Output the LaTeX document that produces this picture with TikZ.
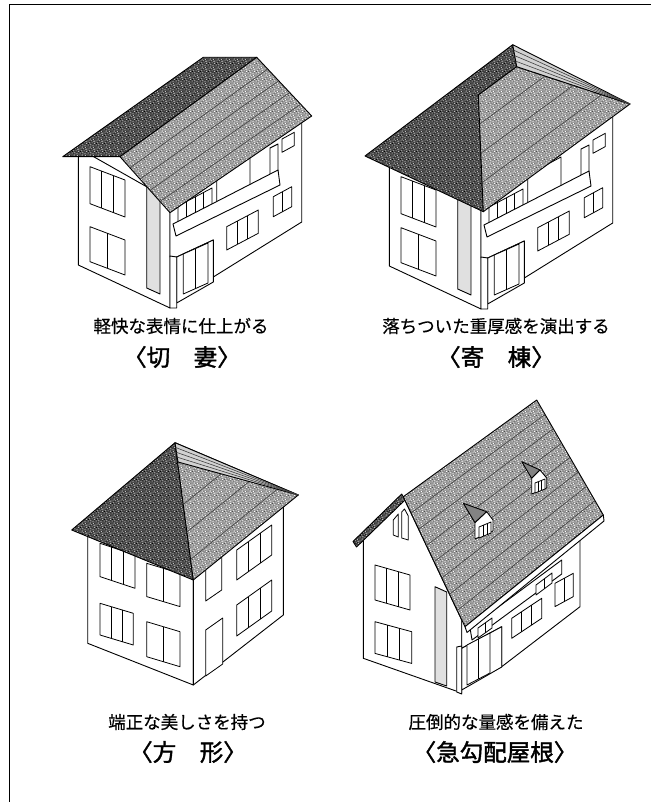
\documentclass[tikz,border=0pt]{standalone}
\usepackage{fontspec}
\newfontfamily\jp[FakeBold=0.4]{Noto Sans CJK JP}
\newfontfamily\jpbold[FakeBold=1.6]{Noto Sans CJK JP}
\usetikzlibrary{calc,patterns}
\definecolor{roofdark}{RGB}{78,78,78}
\definecolor{rooflight}{RGB}{158,158,158}
\definecolor{roofpale}{RGB}{210,210,210}
% speckled grain for the roof slopes
\pgfdeclarepatternformonly{grainA}{\pgfpointorigin}{\pgfpoint{8pt}{8pt}}{\pgfpoint{8pt}{8pt}}{%
  \foreach \gx/\gy in {0.3/0.6,2.7/1.1,5.2/0.2,6.9/2.4,1.4/3.3,4.1/3.8,7.2/5.1,0.8/6.2,3.3/5.9,5.6/6.9,2.2/7.4,6.1/4.4}
    {\pgfpathrectangle{\pgfpoint{\gx pt}{\gy pt}}{\pgfpoint{0.9pt}{0.9pt}}}%
  \pgfusepath{fill}}
\pgfdeclarepatternformonly{grainB}{\pgfpointorigin}{\pgfpoint{8pt}{8pt}}{\pgfpoint{8pt}{8pt}}{%
  \foreach \gx/\gy in {1.6/0.4,4.3/1.7,6.6/0.9,0.2/2.3,3.1/2.6,5.7/3.1,1.9/4.8,4.8/5.2,7.1/6.6,0.6/7.1,3.9/7.2,2.9/4.1}
    {\pgfpathrectangle{\pgfpoint{\gx pt}{\gy pt}}{\pgfpoint{0.8pt}{0.8pt}}}%
  \pgfusepath{fill}}
\tikzset{
  outline/.style={draw=black,line width=0.9pt,line join=round},
  wall/.style={outline,fill=white},
  recess/.style={outline,fill=black!12},
  pane/.style={draw=black,line width=0.8pt,line join=round,fill=white},
  darkslope/.style={preaction={fill=roofdark},
    preaction={pattern=grainA,pattern color=white!75!black},
    preaction={pattern=grainB,pattern color=black},outline},
  lightslope/.style={preaction={fill=rooflight},
    preaction={pattern=grainA,pattern color=white},
    preaction={pattern=grainB,pattern color=black!70},outline},
  paleslope/.style={outline,fill=roofpale},
  course/.style={draw=black!75,line width=0.6pt},
  caption/.style={font=\jp\fontsize{17.5}{20}\selectfont,anchor=center,inner sep=0pt},
  title/.style={font=\jpbold\fontsize{23.5}{26}\selectfont,anchor=center,inner sep=0pt},
}
% window: top-left (#1,#2), top-right (#3,#4), height #5, #6 panes
\newcommand\win[6]{%
  \draw[pane] (#1,#2) -- (#3,#4) -- ($(#3,#4)+(0,#5)$) -- ($(#1,#2)+(0,#5)$) -- cycle;
  \ifnum#6>1
    \pgfmathtruncatemacro\winlast{#6-1}%
    \foreach \wi in {1,...,\winlast}{%
      \pgfmathsetmacro\wf{\wi/#6}%
      \draw[pane] ($(#1,#2)!\wf!(#3,#4)$) -- ++(0,#5);}%
  \fi}
% two-storey body with balcony; #1 lowers the upper gable-end window
\newcommand\bodyA[1]{%
  \draw[wall] (78.3,148) -- (78.3,265) -- (170,308) -- (170,200) -- cycle;
  \draw[recess] (146.7,182) -- (146.7,288) -- (160,294) -- (160,196) -- cycle;
  \win{90}{166.7+#1}{125}{180+#1}{37}{3}
  \win{90}{226.7}{125}{240}{35}{2}
  \draw[wall] (170,200) -- (301.7,110) -- (301.7,222) -- (213.3,277) -- (213.3,240) -- (176.7,257) -- (170,257) -- cycle;
  \draw[wall] (176.7,257) -- (213.3,240) -- (213.3,282) -- (176.7,303) -- cycle;
  \win{183.3}{254}{208}{243}{40}{2}
  \draw[wall] (170,256) -- (176.7,257) -- (176.7,308) -- (170,308) -- cycle;
  \win{178}{206}{212}{188}{26}{4}
  \win{216.7}{174}{250}{156}{40}{1}
  \draw[wall] (270,148) -- (278,144) -- (278,172) -- (270,176) -- cycle;
  \draw[wall] (173,224) -- (278,170) -- (280,185) -- (176,236) -- cycle;
  \win{226.7}{226.7}{258.3}{210}{23.3}{3}
  \win{273.3}{196.7}{291.7}{186.7}{20}{2}
  \win{282}{139}{294.3}{132.3}{13.3}{1}
}
\begin{document}
\begin{tikzpicture}[x=1pt,y=-1pt]
\useasboundingbox (0,0) rectangle (651,802);
\draw[line width=1pt] (9.5,802) -- (9.5,5) -- (651,5);

% ---------- gable roof ----------
\bodyA{0}
\draw[darkslope] (62.7,156.7) -- (120,156.7) -- (256.7,57.3) -- (203.3,57.3) -- cycle;
\draw[lightslope] (120,156.7) -- (256.7,57.3) -- (311.7,116) -- (170,212.7) -- cycle;
\foreach \f in {0.2,0.4,0.6,0.8}
  \draw[course] ($(120,156.7)!\f!(170,212.7)$) -- ($(256.7,57.3)!\f!(311.7,116)$);

% ---------- hipped roof ----------
\begin{scope}[shift={(311,1)}]
  \bodyA{9}
\end{scope}
\draw[darkslope] (365,156) -- (512.7,44.7) -- (516.7,66.7) -- (478.3,95) -- (483.3,211.7) -- cycle;
\draw[lightslope] (478.3,95) -- (516.7,66.7) -- (630,104) -- (483.3,211.7) -- cycle;
\draw[paleslope] (516.7,66.7) -- (512.7,44.7) -- (630,104) -- cycle;
\foreach \f in {0.25,0.5,0.75}
  \draw[course] ($(512.7,44.7)!\f!(516.7,66.7)$) -- (630,104);
\foreach \f in {0.25,0.5,0.75}
  \draw[course] ($(478.3,95)!\f!(483.3,211.7)$) -- ($(516.7,66.7)!\f!(630,104)$);

% ---------- pyramid roof ----------
\draw[wall] (87.7,525) -- (87.7,643.3) -- (193.3,685) -- (193.3,575) -- cycle;
\draw[wall] (193.3,575) -- (283.3,495) -- (283.3,615) -- (193.3,685) -- cycle;
\win{100}{543.3}{135}{555}{33.3}{3}
\win{146.7}{563.3}{180}{573.3}{33.3}{2}
\win{100}{603.3}{133.3}{613.3}{31.7}{3}
\win{146.7}{621.7}{180}{631.7}{35}{2}
\win{205.7}{568}{221.7}{557}{33}{1}
\win{236.7}{550}{271.7}{525}{30}{3}
\win{205.7}{630}{222.7}{618}{46}{1}
\win{236.7}{605}{271.7}{580}{31}{3}
\draw[darkslope] (71.7,530) -- (175,442.7) -- (193.3,580) -- cycle;
\draw[lightslope] (175,442.7) -- (298.3,495) -- (193.3,580) -- cycle;
\foreach \f in {0.45,0.65,0.85}
  \draw[course] ($(175,442.7)!\f!(193.3,580)$) -- ($(175,442.7)!\f!(298.3,495)$);
\draw[paleslope] (175,442.7) -- (298.3,495) -- (178,462) -- cycle;
\foreach \f in {0.25,0.5,0.75}
  \draw[course] ($(175,442.7)!\f!(178,462)$) -- (298.3,495);

% ---------- steep roof ----------
\draw[wall] (363.3,536) -- (403.3,497) -- (461.7,620) -- (461.7,693) -- (363.3,658.3) -- cycle;
\draw[recess] (435,586.7) -- (435,682) -- (446.7,686) -- (446.7,592) -- cycle;
\win{375}{565}{410}{575}{35}{3}
\win{375}{621.7}{411.7}{631.7}{31.7}{3}
\draw[pane] (393.3,520) -- (398.3,514) -- (398.3,537) -- (393.3,535) -- cycle;
\draw[pane] (401.7,512) -- (404.5,509) -- (408.3,516) -- (408.3,540) -- (401.7,538) -- cycle;
\draw[wall] (461.7,615) -- (580,528) -- (580,606.7) -- (501.7,666.7) -- (501.7,626.7) -- (461.7,648.3) -- cycle;
\draw[wall] (461.7,648.3) -- (501.7,626.7) -- (501.7,667) -- (461.7,690) -- cycle;
\win{467}{645}{490}{633}{40}{2}
\draw[wall] (456.7,647) -- (461.7,646) -- (461.7,694) -- (456.7,692) -- cycle;
\win{511.7}{618.3}{541.7}{598.3}{20}{3}
\win{555}{583.3}{573.3}{573.3}{23.3}{2}
\draw[wall] (470,628) -- (561.7,560) -- (561.7,574) -- (472,640) -- cycle;
\win{478}{628}{492}{618}{10}{2}
\win{536}{585}{552}{573}{10}{2}
\draw[darkslope] (401.7,494) -- (353,541.5) -- (356.5,547) -- (405,500) -- cycle;
\draw[lightslope] (403.3,496.7) -- (536.7,400) -- (603.3,515) -- (465,626.7) -- cycle;
\foreach \f in {0.125,0.25,0.375,0.5,0.625,0.75,0.875}
  \draw[course] ($(403.3,496.7)!\f!(465,626.7)$) -- ($(536.7,400)!\f!(603.3,515)$);
\draw[wall] (465,626.7) -- (603.3,515) -- (604,521) -- (467,632.5) -- cycle;
% dormers
\draw[outline,fill=roofdark!70] (463.3,503.3) -- (486.7,511.7) -- (475,522.7) -- cycle;
\draw[wall] (475,522.7) -- (486.7,511.7) -- (493,520) -- (493,531) -- (475,539) -- cycle;
\win{479}{527}{491}{522}{11}{3}
\draw[outline,fill=roofdark!70] (521.7,461.7) -- (540,470) -- (531.7,478.3) -- cycle;
\draw[wall] (531.7,478.3) -- (540,470) -- (546.7,478) -- (546.7,488) -- (531.7,494) -- cycle;
\win{535}{483}{545}{479}{10}{3}

% ---------- captions ----------
\node[caption] (c1) at (181,326) {軽快な表情に仕上がる};
\node[title] (t1) at (182,357) {〈切　妻〉};
\node[caption] (c2) at (496,326) {落ちついた重厚感を演出する};
\node[title] (t2) at (496,357) {〈寄　棟〉};
\node[caption] (c3) at (187,722) {端正な美しさを持つ};
\node[title] (t3) at (188,752) {〈方　形〉};
\node[caption] (c4) at (496,722) {圧倒的な量感を備えた};
\node[title] (t4) at (495,752) {〈急勾配屋根〉};
\end{tikzpicture}
\end{document}
